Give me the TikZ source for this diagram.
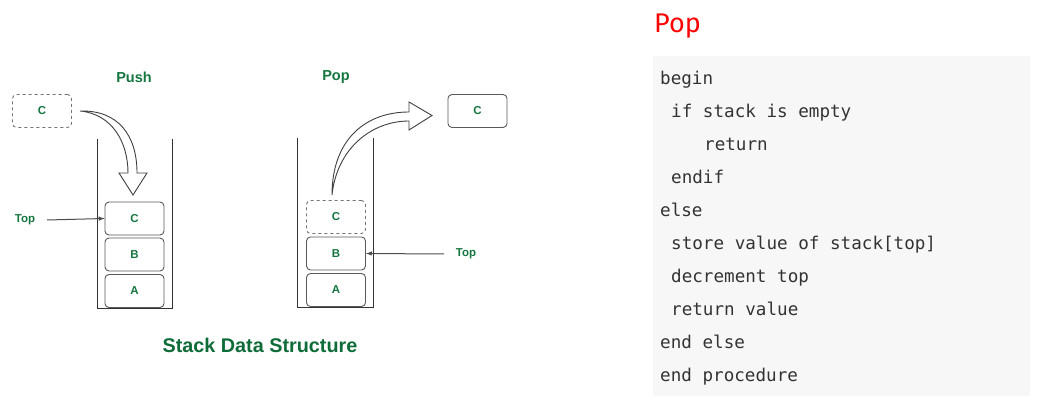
\documentclass[tikz,border=0pt]{standalone}
\usepackage{fontspec}
\setmainfont{Liberation Sans}
\newfontfamily\codefont{DejaVu Sans Mono}
\newfontfamily\handfont{Fira Sans}
\definecolor{gfgreen}{RGB}{22,118,64}
\definecolor{titlegreen}{RGB}{14,108,56}
\begin{document}
\begin{tikzpicture}[x=1pt,y=-1pt,
  gtext/.style={text=gfgreen, font=\bfseries\fontsize{11.5}{13}\selectfont},
  item/.style={draw=black!65, line width=0.9pt, rounded corners=4pt, minimum width=59pt, minimum height=33pt, inner sep=0pt, gtext},
  ghost/.style={item, dashed, draw=black!55},
  wall/.style={draw=black!80, line width=1pt},
  ptr/.style={draw=black!70, line width=1pt, -latex},
  hollow/.style={draw=black!75, line width=0.9pt, fill=white},
  codeline/.style={anchor=base west, inner sep=0pt, text=black!80, font=\codefont\fontsize{17.6}{20}\selectfont}
]
\useasboundingbox (0,0) rectangle (1043,411);

% ---------- Push ----------
\node[gtext, font=\bfseries\fontsize{14.5}{16}\selectfont] (pushT) at (134,77) {Push};
\node[ghost] (pc) at (42,111) {C};
\draw[wall] (97,139) -- (97,309) -- (172,309) -- (172,139);
\node[item] (pC) at (134.5,218.5) {C};
\node[item] (pB) at (134.5,254.5) {B};
\node[item] (pA) at (134.5,291) {A};
\node[gtext] (ptop) at (25,220) {Top};
\coordinate (ptopS) at (47,220);
\draw[ptr] (ptopS) -- (pC.west);
\draw[hollow] (80,111) .. controls (118,110) and (137,135) .. (137,173) -- (147,173) -- (133,195) -- (119,173) -- (128,173) .. controls (128,142) and (112,114) .. (80,111) -- cycle;

% ---------- Pop ----------
\node[gtext, font=\bfseries\fontsize{14.5}{16}\selectfont] (popT) at (336,77) {Pop};
\draw[wall] (297,138) -- (297,308) -- (373,308) -- (373,138);
\node[ghost] (qC) at (336,217) {C};
\node[item] (qB) at (336,253.5) {B};
\node[item] (qA) at (336,290) {A};
\node[item] (qout) at (477.5,111) {C};
\node[gtext] (qtop) at (466,254) {Top};
\coordinate (qtopS) at (444,254);
\draw[ptr] (qtopS) -- (qB.east);
\draw[hollow] (332,195) .. controls (332,140) and (365,112) .. (409,112) -- (409,102) -- (432,115.5) -- (409,130) -- (409,121) .. controls (372,121) and (337,148) .. (332,195) -- cycle;

\node[text=titlegreen, font=\bfseries\fontsize{19.8}{22}\selectfont] (title) at (260,345) {Stack Data Structure};

% ---------- Code ----------
\node[text=red, font=\handfont\fontsize{27}{29}\selectfont, anchor=base west, inner sep=0pt] (poptitle) at (654,33) {Pop};
\fill[black!3] (653,56) rectangle (1030,396);
\node[codeline] (l1) at (660,84.5) {begin};
\node[codeline] (l2) at (671,117.5) {if stack is empty};
\node[codeline] (l3) at (704,150.5) {return};
\node[codeline] (l4) at (671,183.5) {endif};
\node[codeline] (l5) at (660,216.5) {else};
\node[codeline] (l6) at (671,249.5) {store value of stack[top]};
\node[codeline] (l7) at (671,282.5) {decrement top};
\node[codeline] (l8) at (671,315.5) {return value};
\node[codeline] (l9) at (660,348.5) {end else};
\node[codeline] (l10) at (660,381.5) {end procedure};
\end{tikzpicture}
\end{document}
